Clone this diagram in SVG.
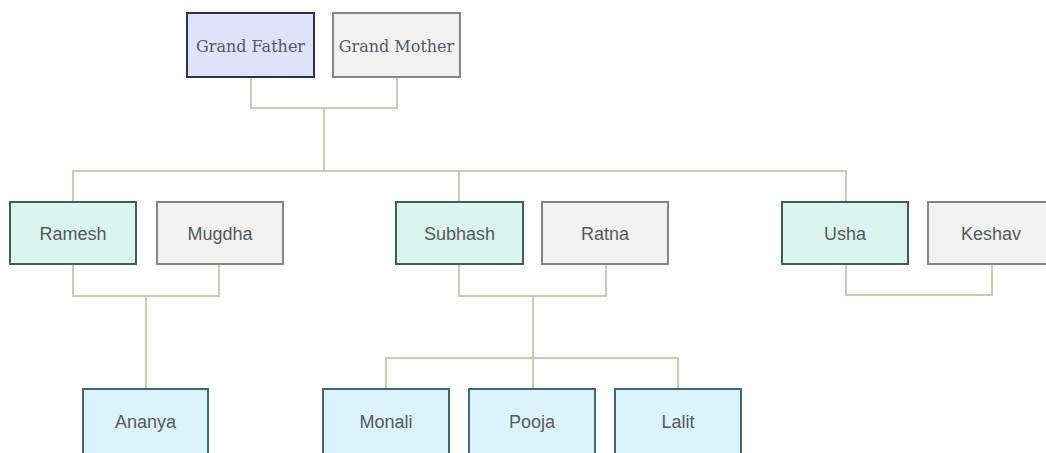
<svg xmlns="http://www.w3.org/2000/svg" width="1046" height="453" viewBox="0 0 1046 453">
<style>
.box rect{stroke-width:2}
.gp rect{fill:#dfe2f8;stroke:#2e3150}
.sp rect{fill:#f1f1f1;stroke:#858585}
.ch rect{fill:#daf5ee;stroke:#3e5e57}
.gc rect{fill:#dbf3fa;stroke:#3f6975}
text{font-family:"Liberation Sans",Arial,sans-serif;font-size:18px;fill:#555a5c;text-anchor:middle}
.serif{font-family:"DejaVu Serif","Liberation Serif",serif;font-size:16px;fill:#545a6a}
.conn path{fill:none;stroke:#c3cfb3;stroke-width:2}
</style>
<rect width="1046" height="453" fill="#ffffff"/>
<g class="conn" id="connectors">
<path d="M251 77V108H397V77M324 108V171"/>
<path d="M73 202V171H846V202M459 171V202"/>
<path d="M73 264V296H219V264M146 296V389"/>
<path d="M459 264V296H606V264M533 296V389M386 389V358H678V389"/>
<path d="M846 264V295H992V264"/>
</g>
<g class="box gp" id="grand-father"><rect x="187" y="13" width="127" height="64"/><text class="serif" x="250.5" y="52">Grand Father</text></g>
<g class="box sp" id="grand-mother"><rect x="333" y="13" width="127" height="64"/><text class="serif" x="396.5" y="52">Grand Mother</text></g>
<g class="box ch" id="ramesh"><rect x="10" y="202" width="126" height="62"/><text x="73" y="240">Ramesh</text></g>
<g class="box sp" id="mugdha"><rect x="157" y="202" width="126" height="62"/><text x="220" y="240">Mugdha</text></g>
<g class="box ch" id="subhash"><rect x="396" y="202" width="127" height="62"/><text x="459.5" y="240">Subhash</text></g>
<g class="box sp" id="ratna"><rect x="542" y="202" width="126" height="62"/><text x="605" y="240">Ratna</text></g>
<g class="box ch" id="usha"><rect x="782" y="202" width="126" height="62"/><text x="845" y="240">Usha</text></g>
<g class="box sp" id="keshav"><rect x="928" y="202" width="127" height="62"/><text x="991" y="240">Keshav</text></g>
<g class="box gc" id="ananya"><rect x="83" y="389" width="125" height="70"/><text x="145.5" y="428">Ananya</text></g>
<g class="box gc" id="monali"><rect x="323" y="389" width="126" height="70"/><text x="386" y="428">Monali</text></g>
<g class="box gc" id="pooja"><rect x="469" y="389" width="126" height="70"/><text x="532" y="428">Pooja</text></g>
<g class="box gc" id="lalit"><rect x="615" y="389" width="126" height="70"/><text x="678" y="428">Lalit</text></g>
</svg>
